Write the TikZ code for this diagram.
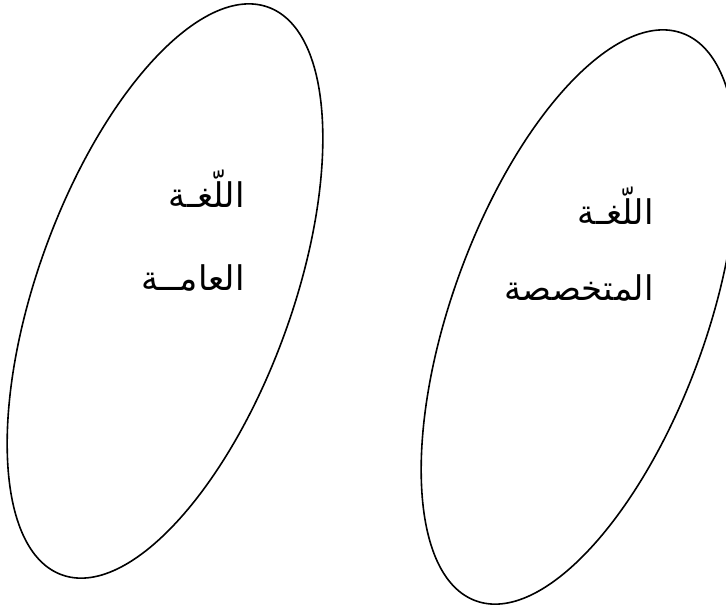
\documentclass[tikz,border=0pt]{standalone}
\usepackage{fontspec}
\usepackage{tikz}
\usetikzlibrary{shapes.geometric}
\TeXXeTstate=1
\newfontfamily\arabicfont[Script=Arabic]{DejaVu Sans}
\tikzset{
  field/.style={draw, ellipse, line width=0.8pt, minimum width=302pt, minimum height=127pt, inner sep=0pt, rotate=70},
  word/.style={font=\arabicfont\fontsize{17}{20}\selectfont, anchor=base east, inner sep=0pt}
}
\begin{document}
\begin{tikzpicture}[x=0.5pt, y=-0.5pt]
  \useasboundingbox (0,0) rectangle (726,606);
  % the two fields
  \node[field] (general) at (165,291) {};
  \node[field] (special) at (579,317) {};
  % labels
  \node[word] (generalTop) at (245,207) {\beginR اللّغـة\endR};
  \node[word] (generalBot) at (245,290) {\beginR العامــة\endR};
  \node[word] (specialTop) at (654,224) {\beginR اللّغـة\endR};
  \node[word] (specialBot) at (654,300) {\beginR المتخصصة\endR};
\end{tikzpicture}
\end{document}
